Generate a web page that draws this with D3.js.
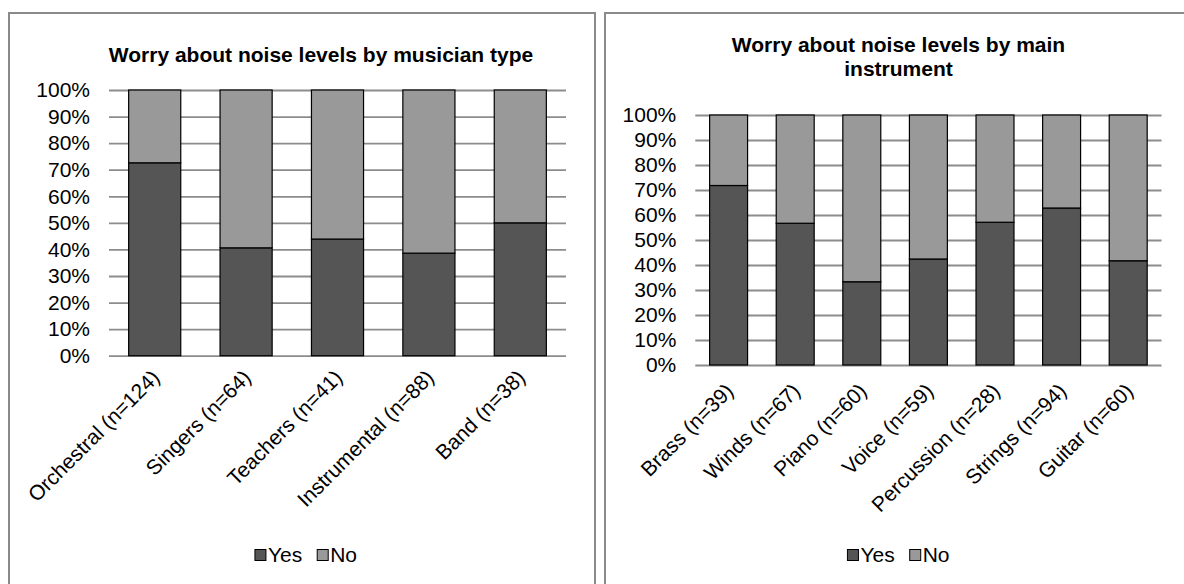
<!DOCTYPE html>
<html>
<head>
<meta charset="utf-8">
<script src="https://cdn.jsdelivr.net/npm/d3@7"></script>
<style>
  html, body { margin: 0; padding: 0; background: #fff; }
  svg { display: block; font-family: "Liberation Sans", Arial, sans-serif; }
</style>
</head>
<body>
<svg id="chart" width="1184" height="584"></svg>
<script>
// Survey answers: share of respondents who worry about noise levels (percent)
const seriesNames = ["Yes", "No"];
const seriesColors = ["#555555", "#999999"];
const percentTicks = [0, 10, 20, 30, 40, 50, 60, 70, 80, 90, 100];

const typeCategories = ["Orchestral (n=124)", "Singers (n=64)", "Teachers (n=41)", "Instrumental (n=88)", "Band (n=38)"];
const typeYes = [72.6, 40.6, 43.9, 38.6, 50.0];
const typeNo  = [27.4, 59.4, 56.1, 61.4, 50.0];

const instrumentCategories = ["Brass (n=39)", "Winds (n=67)", "Piano (n=60)", "Voice (n=59)", "Percussion (n=28)", "Strings (n=94)", "Guitar (n=60)"];
const instrumentYes = [71.8, 56.7, 33.3, 42.4, 57.1, 62.8, 41.7];
const instrumentNo  = [28.2, 43.3, 66.7, 57.6, 42.9, 37.2, 58.3];

const svg = d3.select("#chart");
const FONT = "Liberation Sans, Arial, sans-serif";
const LABEL_SIZE = 21;

function drawPanel(opts) {
  const { frame, plot, titleLines, titleX, titleY, categories, yes, no, legendX, legendY, labelOffset } = opts;
  const g = svg.append("g");

  // panel frame
  g.append("rect")
    .attr("x", frame.x).attr("y", frame.y)
    .attr("width", frame.w).attr("height", frame.h)
    .attr("fill", "#fff").attr("stroke", "#8a8a8a").attr("stroke-width", 2);

  // title
  const t = g.append("text")
    .attr("x", titleX).attr("y", titleY)
    .attr("text-anchor", "middle")
    .attr("font-size", 21).attr("font-weight", "bold").attr("fill", "#000");
  titleLines.forEach((line, i) => {
    t.append("tspan").attr("x", titleX).attr("dy", i === 0 ? 0 : 23.5).text(line);
  });

  const rows = categories.map((c, i) => ({ category: c, Yes: yes[i], No: no[i] }));
  const stacked = d3.stack().keys(seriesNames)(rows);

  const x = d3.scaleBand().domain(categories)
    .range([plot.left, plot.right]).paddingInner(0.43).paddingOuter(0.215);
  const y = d3.scaleLinear().domain([0, 100]).range([plot.bottom, plot.top]);

  // y axis with horizontal gridlines
  const yAxis = d3.axisLeft(y).tickValues(percentTicks)
    .tickFormat(d => d + "%")
    .tickSizeInner(-(plot.right - plot.left)).tickSizeOuter(0).tickPadding(19);
  const ya = g.append("g").attr("transform", `translate(${plot.left},0)`).call(yAxis);
  ya.select(".domain").remove();
  ya.selectAll(".tick line").attr("stroke", "#8c8c8c").attr("stroke-width", 1.8);
  ya.selectAll(".tick text").attr("font-size", LABEL_SIZE).attr("fill", "#000")
    .attr("font-family", FONT);

  // stacked bars
  g.append("g").selectAll("g").data(stacked).join("g")
    .attr("fill", (d, i) => seriesColors[i])
    .selectAll("rect").data(d => d).join("rect")
      .attr("x", d => x(d.data.category))
      .attr("width", x.bandwidth())
      .attr("y", d => y(d[1]))
      .attr("height", d => y(d[0]) - y(d[1]))
      .attr("stroke", "#000").attr("stroke-width", 1.2);

  // category axis labels, rotated
  const xAxis = d3.axisBottom(x).tickSize(0).tickPadding(0);
  const xa = g.append("g").attr("transform", `translate(0,${plot.bottom})`).call(xAxis);
  xa.select(".domain").remove();
  xa.selectAll(".tick text")
    .attr("font-size", LABEL_SIZE).attr("fill", "#000")
    .attr("font-family", FONT)
    .attr("text-anchor", "end")
    .attr("dy", "0.35em")
    .attr("y", 0)
    .attr("transform", `translate(${labelOffset.dx},${labelOffset.dy}) rotate(-45)`);

  // legend
  const lg = g.append("g");
  const items = lg.selectAll("g").data(seriesNames).join("g");
  items.append("rect")
    .attr("width", 11).attr("height", 11).attr("y", -12)
    .attr("fill", (d, i) => seriesColors[i])
    .attr("stroke", "#000").attr("stroke-width", 1);
  items.append("text")
    .attr("x", 13).attr("y", 0)
    .attr("font-size", LABEL_SIZE).attr("fill", "#000")
    .text(d => d);
  let offset = 0;
  items.each(function () {
    d3.select(this).attr("transform", `translate(${offset},0)`);
    offset += this.getBBox().width + 15;
  });
  const total = offset - 15;
  lg.attr("transform", `translate(${legendX - total / 2},${legendY})`);
}

drawPanel({
  frame: { x: 9, y: 13, w: 586, h: 590 },
  plot: { left: 109, right: 566, top: 90, bottom: 355.7 },
  titleLines: ["Worry about noise levels by musician type"],
  titleX: 321, titleY: 62,
  categories: typeCategories, yes: typeYes, no: typeNo,
  legendX: 306, legendY: 561.5,
  labelOffset: { dx: 1, dy: 18 }
});

drawPanel({
  frame: { x: 605, y: 13, w: 600, h: 590 },
  plot: { left: 695.3, right: 1161.5, top: 115, bottom: 365 },
  titleLines: ["Worry about noise levels by main", "instrument"],
  titleX: 898.5, titleY: 52,
  categories: instrumentCategories, yes: instrumentYes, no: instrumentNo,
  legendX: 898.5, legendY: 561.5,
  labelOffset: { dx: 1, dy: 22 }
});
</script>
</body>
</html>
